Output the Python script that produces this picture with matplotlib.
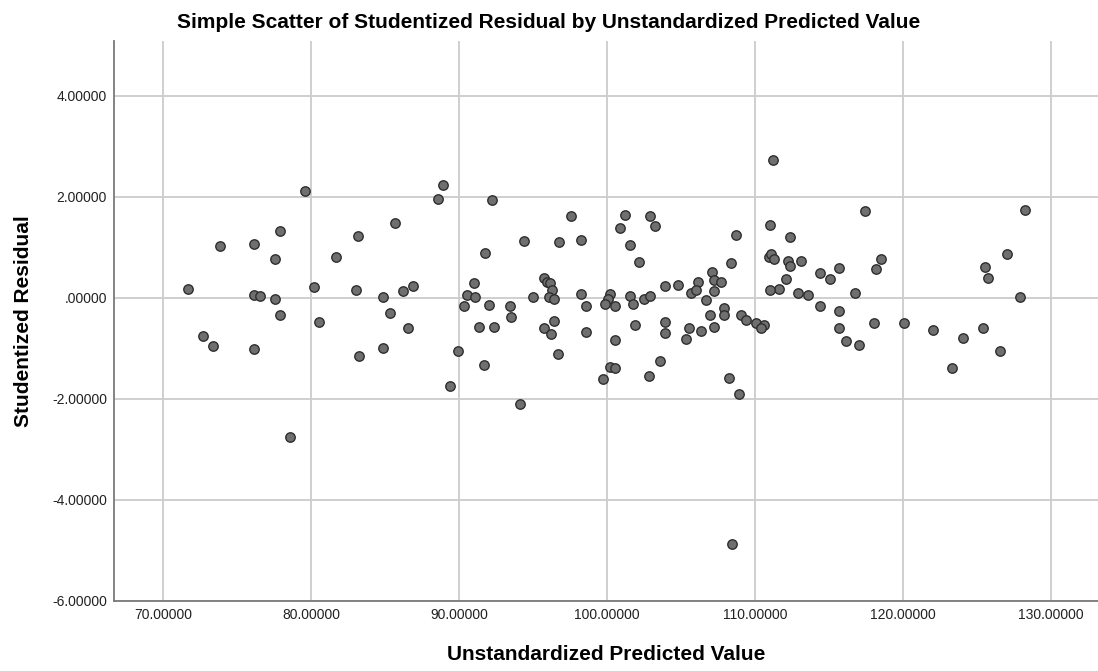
import matplotlib.pyplot as plt

# predicted values and studentized residuals
predicted = [
    79.55, 77.86, 73.84, 76.16, 77.52, 83.14, 81.67, 71.65, 76.16, 76.55,
    77.52, 80.20, 83.02, 77.86, 80.50, 72.69, 73.34, 76.16, 83.25, 78.53,
    88.89, 88.56, 92.21, 85.69, 97.56, 94.38, 96.75, 98.24, 91.76, 84.83,
    86.19, 86.91, 91.02, 90.52, 91.06, 90.34, 92.05, 93.41, 93.54, 95.01,
    95.73, 95.91, 96.12, 96.25, 96.07, 96.43, 98.24, 98.58, 85.35, 86.52,
    91.35, 92.39, 95.73, 96.41, 96.23, 98.58, 84.85, 89.89, 91.69, 96.70,
    89.39, 94.09,
    111.22, 101.19, 102.93, 100.86, 103.27, 101.58, 102.18, 108.74, 108.38, 111.04,
    112.39, 110.92, 111.08, 111.26, 112.27, 112.39, 113.09, 112.07, 111.60, 111.04,
    112.91, 113.58, 114.41, 115.07, 115.72, 114.41, 115.72, 115.72, 100.23, 100.05,
    99.86, 100.56, 101.55, 101.73, 102.52, 102.91, 103.92, 104.77, 106.13, 105.68,
    106.04, 107.07, 107.25, 107.72, 107.25, 106.69, 107.91, 107.88, 106.94, 107.23,
    109.05, 109.39, 110.05, 110.59, 110.43, 101.91, 103.92, 103.92, 105.56, 106.37,
    105.36, 100.54, 103.56, 100.23, 100.56, 99.71, 102.86, 108.27, 108.92, 108.44,
    117.43, 128.28, 127.07, 125.58, 125.73, 127.92, 118.51, 118.19, 116.75, 116.16,
    117.07, 118.06, 120.07, 122.03, 124.04, 125.40, 126.57, 123.36,
]
residual = [
    2.12, 1.31, 1.02, 1.07, 0.76, 1.21, 0.81, 0.17, 0.06, 0.04,
    -0.03, 0.21, 0.15, -0.34, -0.48, -0.77, -0.96, -1.02, -1.16, -2.76,
    2.22, 1.96, 1.93, 1.48, 1.62, 1.12, 1.10, 1.14, 0.88, 0.02,
    0.13, 0.23, 0.29, 0.05, 0.01, -0.17, -0.14, -0.17, -0.39, 0.01,
    0.39, 0.31, 0.28, 0.15, 0.01, -0.02, 0.07, -0.17, -0.31, -0.61,
    -0.59, -0.59, -0.61, -0.46, -0.73, -0.68, -0.99, -1.06, -1.33, -1.12,
    -1.75, -2.11,
    2.72, 1.64, 1.62, 1.37, 1.42, 1.05, 0.71, 1.24, 0.69, 1.43,
    1.19, 0.81, 0.86, 0.77, 0.73, 0.62, 0.72, 0.36, 0.18, 0.15,
    0.09, 0.05, 0.48, 0.36, 0.59, -0.17, -0.26, -0.61, 0.07, -0.02,
    -0.13, -0.17, 0.04, -0.12, -0.03, 0.03, 0.23, 0.24, 0.30, 0.09,
    0.15, 0.51, 0.35, 0.31, 0.13, -0.04, -0.20, -0.34, -0.34, -0.58,
    -0.35, -0.45, -0.50, -0.54, -0.61, -0.55, -0.48, -0.70, -0.60, -0.67,
    -0.82, -0.83, -1.25, -1.37, -1.39, -1.61, -1.56, -1.60, -1.91, -4.87,
    1.72, 1.73, 0.86, 0.61, 0.38, 0.01, 0.76, 0.56, 0.09, -0.86,
    -0.94, -0.50, -0.50, -0.65, -0.79, -0.60, -1.05, -1.39,
]
x_ticks = [70, 80, 90, 100, 110, 120, 130]
y_ticks = [-6, -4, -2, 0, 2, 4]

plt.rcParams['font.family'] = ['Liberation Sans', 'DejaVu Sans']

fig = plt.figure(figsize=(10.98, 6.71), dpi=100)
ax = fig.add_axes([0.1038, 0.1048, 0.8962, 0.8341])

ax.scatter(predicted, residual, s=46, c='#6f6f6f', edgecolors='#2e2e2e',
           linewidths=1.0, zorder=3)

ax.set_xlim(66.66, 133.2)
ax.set_ylim(-6, 5.08)
ax.set_xticks(x_ticks)
ax.set_yticks(y_ticks)
ax.set_xticklabels(['%.5f' % v for v in x_ticks])
ax.set_yticklabels(['.00000' if v == 0 else '%.5f' % v for v in y_ticks])
ax.tick_params(length=0, labelsize=10, colors='#222222', pad=5)

ax.grid(True, color='#cccccc', linewidth=1.3, zorder=0)
ax.set_axisbelow(True)
for side in ['top', 'right']:
    ax.spines[side].set_visible(False)
for side in ['left', 'bottom']:
    ax.spines[side].set_color('#7a7a7a')
    ax.spines[side].set_linewidth(1.3)

# title is centred on the whole figure, not the axes
fig.text(0.5, 0.967, 'Simple Scatter of Studentized Residual by Unstandardized Predicted Value',
         ha='center', va='center', fontsize=15, fontweight='bold')
ax.set_xlabel('Unstandardized Predicted Value', fontsize=15, fontweight='bold',
              labelpad=17)
ax.set_ylabel('Studentized Residual', fontsize=15, fontweight='bold', labelpad=14)

plt.savefig('out.png', dpi=100)
plt.close()
